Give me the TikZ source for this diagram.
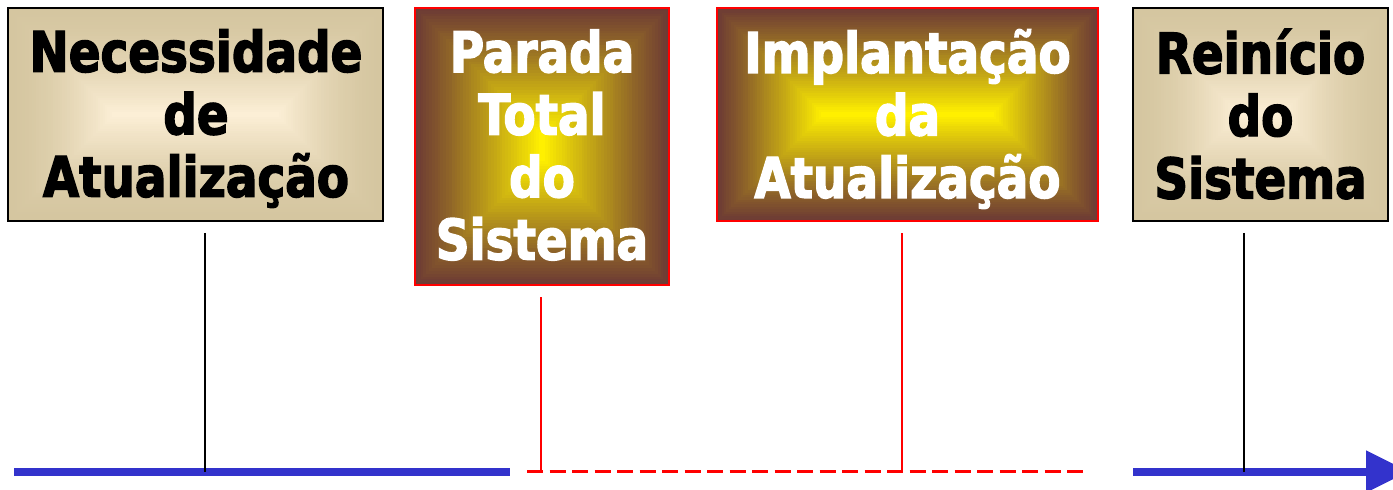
\documentclass[tikz,border=0pt]{standalone}
\usepackage{fontspec}
\usetikzlibrary{arrows.meta}
\newfontfamily\boxfont{DejaVu Sans Condensed}[FakeStretch=0.93, FakeBold=2.5]
\definecolor{tanout}{HTML}{D5C6A0}
\definecolor{tanin}{HTML}{FCEFD6}
\definecolor{brout}{HTML}{6E3C34}
\definecolor{brin}{HTML}{FFF000}
\definecolor{tlblue}{HTML}{3333CC}
\definecolor{tlred}{HTML}{FF0000}
\newcommand{\gradbox}[7]{%
  \pgfmathsetmacro\gbm{min(#3-#1,#4-#2)/2}%
  \foreach \i in {0,...,44}{%
    \pgfmathsetmacro\gbd{\gbm*\i/45}%
    \pgfmathtruncatemacro\gbp{100*(\i/44)^#7}%
    \fill[#6!\gbp!#5] (#1+\gbd,#2+\gbd) rectangle (#3-\gbd,#4-\gbd);
  }}
\tikzset{
  boxtext/.style={font=\boxfont\bfseries\fontsize{56}{62.5}\selectfont, align=center, inner sep=0pt},
  plainbox/.style={draw=black, line width=1.5pt, inner sep=0pt},
  hotbox/.style={draw=tlred, line width=2.5pt, inner sep=0pt},
  blackstem/.style={draw=black, line width=2.2pt, shorten <=11pt},
  redstem/.style={draw=tlred, line width=2.2pt, shorten <=11pt},
  bluebar/.style={draw=tlblue, line width=8pt},
  reddash/.style={draw=tlred, line width=3pt, dash pattern=on 16pt off 6.5pt}
}
\begin{document}
\begin{tikzpicture}[x=1pt, y=-1pt]
\path[use as bounding box, clip] (0,0) rectangle (1393,490);
\fill[white] (0,0) rectangle (1393,490);
% gradient fills
\gradbox{8}{8}{383}{221}{tanout}{tanin}{1.6}
\gradbox{415}{8}{669}{285}{brout}{brin}{1.1}
\gradbox{717}{8}{1098}{221}{brout}{brin}{1.1}
\gradbox{1133}{8}{1388}{221}{tanout}{tanin}{1.6}
% boxes
\node[plainbox, minimum width=375pt, minimum height=213pt] (b1) at (195.5,114.5) {};
\node[hotbox, minimum width=254pt, minimum height=277pt] (b2) at (542,146.5) {};
\node[hotbox, minimum width=381pt, minimum height=213pt] (b3) at (907.5,114.5) {};
\node[plainbox, minimum width=255pt, minimum height=213pt] (b4) at (1260.5,114.5) {};
% texts
\node[boxtext, text=black] (t1) at (196,118.5) {Necessidade\\de\\Atualização};
\node[boxtext, text=white] (t2) at (542,145) {Parada\\Total\\do\\Sistema};
\node[boxtext, text=white] (t3) at (907.5,119) {Implantação\\da\\Atualização};
\node[boxtext, text=black] (t4) at (1260.5,114) {Reinício\\do\\Sistema};
% timeline points
\coordinate (a0) at (14,471.5);
\coordinate (a1) at (510,471.5);
\coordinate (d0) at (527,471);
\coordinate (d1) at (1087,471);
\coordinate (c0) at (1133,471.5);
\coordinate (c1) at (1409,471.5);
\coordinate (p1) at (205,471.5);
\coordinate (p2) at (541,471);
\coordinate (p3) at (902,471);
\coordinate (p4) at (1244,471.5);
% timeline
\draw[bluebar] (a0) -- (a1);
\draw[reddash] (d0) -- (d1);
\draw[bluebar, -{Triangle[length=43pt, width=40pt]}] (c0) -- (c1);
% stems
\draw[blackstem] (p1 |- b1.south) -- (p1);
\draw[redstem] (p2 |- b2.south) -- (p2);
\draw[redstem] (p3 |- b3.south) -- (p3);
\draw[blackstem] (p4 |- b4.south) -- (p4);
\end{tikzpicture}
\end{document}
